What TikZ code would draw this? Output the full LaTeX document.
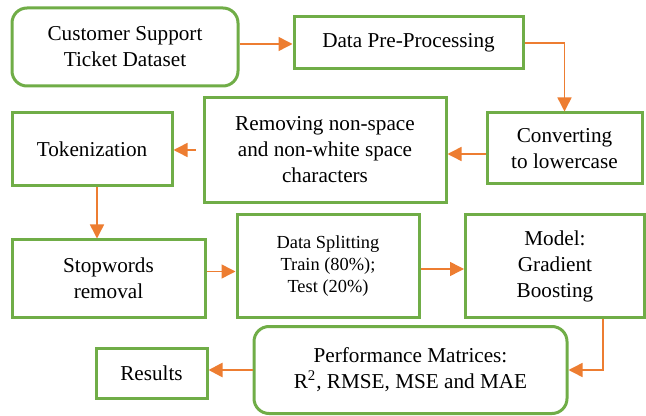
\documentclass[tikz,border=0pt]{standalone}
\usepackage{fontspec}
\setmainfont{Liberation Serif}
\usetikzlibrary{arrows.meta}
\definecolor{boxgreen}{RGB}{112,173,71}
\definecolor{arrorange}{RGB}{237,125,49}
\begin{document}
\begin{tikzpicture}[%
    x=0.5pt, y=-0.5pt,
    every node/.style = {draw=boxgreen, line width=1.5pt, fill=white, inner sep=1mm, align=center,
                         font=\fontsize{10.6}{13}\selectfont},
    box/.style = {rectangle},
    rbox/.style = {rectangle, rounded corners=7.5pt},
    flow/.style = {draw=arrorange, line width=0.75pt, -{Triangle[length=7pt, width=7pt]}},
    thickflow/.style = {flow, line width=1.3pt}%
  ]
    \useasboundingbox (0,0) rectangle (646,416);

    % first row
    \node[rbox, minimum width=113pt, minimum height=39pt] (cust) at (125,47) {Customer Support\\Ticket Dataset};
    \node[box, minimum width=114.5pt, minimum height=26pt] (prep) at (408.5,43) {Data Pre-Processing};

    % second row
    \node[box, minimum width=80pt, minimum height=36.5pt] (token) at (92,149.5) {Tokenization};
    \node[box, minimum width=121pt, minimum height=52.5pt] (remov) at (325,150) {Removing non-space\\and non-white space\\characters};
    \node[box, minimum width=77.5pt, minimum height=35.5pt] (conv) at (564.5,148.5) {Converting\\to lowercase};

    % third row
    \node[box, minimum width=96.5pt, minimum height=38.5pt] (stop) at (108.5,278.5) {Stopwords\\removal};
    \node[box, minimum width=91pt, minimum height=51pt, font=\fontsize{9.2}{11}\selectfont] (split) at (328,266) {Data Splitting\\Train (80\%);\\Test (20\%)};
    \node[box, minimum width=89.5pt, minimum height=51pt] (model) at (555,266) {Model:\\Gradient\\Boosting};

    % last row
    \node[rbox, minimum width=156.5pt, minimum height=43.5pt] (perf) at (410.5,370) {Performance Matrices:\\R\textsuperscript{2}, RMSE, MSE and MAE};
    \node[box, minimum width=55.5pt, minimum height=25pt] (res) at (151.5,373.5) {Results};

    % connectors
    \draw[flow] ([yshift=1.5pt]cust.east) -- ([yshift=1.5pt]cust.east -| prep.west);
    \draw[flow] (prep.east) -| (conv.north);
    \draw[flow] ([yshift=-2.75pt]conv.west) -- ([yshift=-2.75pt]conv.west -| remov.east);
    \draw[flow] ([xshift=-3.5pt]remov.west) -- (remov.west -| token.east);
    \draw[flow] ([xshift=2.5pt]token.south) -- ([xshift=2.5pt]token.south |- stop.north);
    \draw[flow] ([yshift=3.5pt]stop.east) -- ([yshift=3.5pt]stop.east -| split.west);
    \draw[flow] ([yshift=-1.5pt]split.east) -- ([yshift=-1.5pt]split.east -| model.west);
    \draw[flow] ([xshift=24pt]model.south) |- (perf.east);
    \draw[thickflow] (perf.west) -- (perf.west -| res.east);
  \end{tikzpicture}
\end{document}
